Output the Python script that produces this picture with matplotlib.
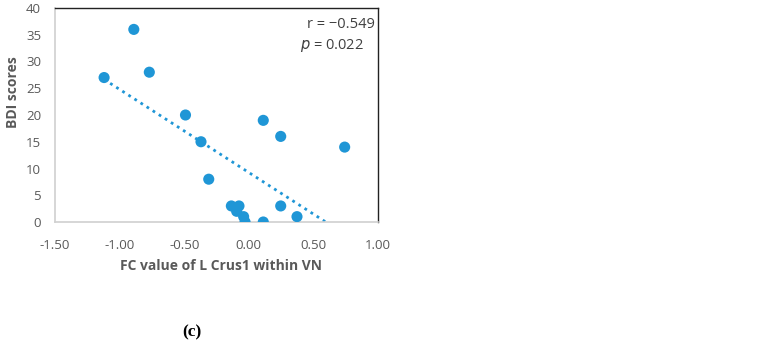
import numpy as np
import matplotlib
matplotlib.use("Agg")
import matplotlib.pyplot as plt

fc_values = [-1.12, -0.89, -0.77, -0.49, -0.37, -0.31, -0.135, -0.076, -0.094,
             -0.04, -0.029, 0.112, 0.112, 0.247, 0.247, 0.373, 0.742]
bdi_scores = [27, 36, 28, 20, 15, 8, 3, 3, 2, 1, 0, 0, 19, 16, 3, 1, 14]
x_ticks = [-1.5, -1.0, -0.5, 0.0, 0.5, 1.0]
y_ticks = [0, 5, 10, 15, 20, 25, 30, 35, 40]

plt.rcParams['font.family'] = ['Open Sans', 'DejaVu Sans']
fig = plt.figure(figsize=(7.68, 3.47), dpi=100)
ax = fig.add_axes([55/768, 1 - 222/347, (378 - 55)/768, (222 - 8)/347])

blue = '#1f96d6'
grey_txt = '#595959'

x = np.array(fc_values)
y = np.array(bdi_scores)
slope, intercept = np.polyfit(x, y, 1)
xl = np.linspace(x.min(), x.max(), 200)
yl = slope * xl + intercept
mask = yl >= 0
ax.plot(xl[mask], yl[mask], linestyle=(0, (1, 1.6)), color=blue, linewidth=2.0, zorder=2)
ax.scatter(x, y, s=64, color=blue, zorder=3, edgecolors='none')

ax.set_xlim(-1.5, 1.0)
ax.set_ylim(0, 40)
ax.set_xticks(x_ticks)
ax.set_xticklabels([f"{t:.2f}" for t in x_ticks])
ax.set_yticks(y_ticks)
ax.tick_params(length=0, colors=grey_txt, labelsize=9.5)
ax.tick_params(axis='x', pad=12)
ax.tick_params(axis='y', pad=10)
for s in ['left', 'bottom']:
    ax.spines[s].set_color('#d0d0d0')
    ax.spines[s].set_linewidth(1.2)
for s in ['top', 'right']:
    ax.spines[s].set_color('#222222')
    ax.spines[s].set_linewidth(1.0)

ax.set_ylabel('BDI scores', fontsize=10, fontweight='bold', color=grey_txt)
ax.yaxis.set_label_coords(-0.108, 0.607)
ax.set_xlabel('FC value of L Crus1 within VN', fontsize=10, fontweight='bold', color=grey_txt)
ax.xaxis.set_label_coords(0.515, -0.172)

ax.text(0.99, 0.96, 'r = \u22120.549', transform=ax.transAxes, ha='right', va='top',
        fontsize=10.5, color='#404040')
ax.text(0.955, 0.865, '$\\it{p}$ = 0.022', transform=ax.transAxes, ha='right', va='top',
        fontsize=10.5, color='#404040')

fig.text(192/768, 1 - 332/347, '(c)', ha='center', va='center', fontsize=12.5,
         family='Liberation Serif', fontweight='bold', color='black')

fig.savefig('out.png', dpi=100)
